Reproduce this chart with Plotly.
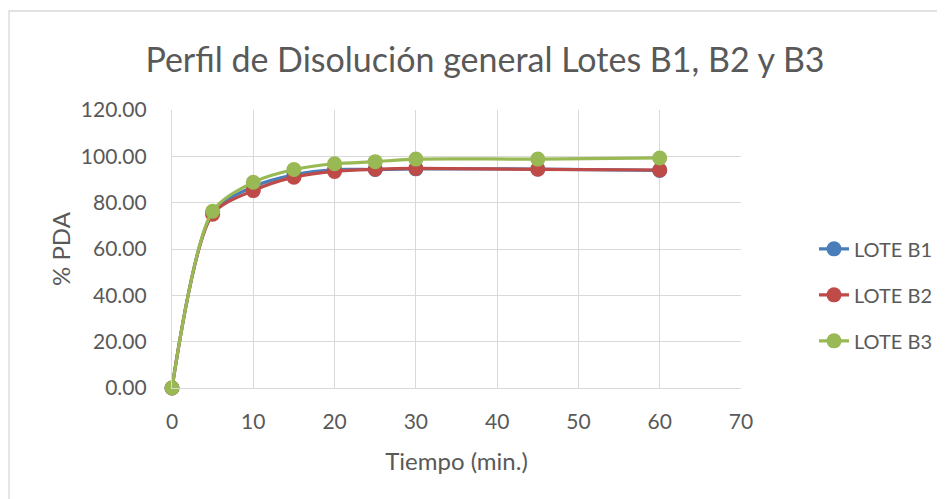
import plotly.graph_objects as go

tiempo = [0, 5, 10, 15, 20, 25, 30, 45, 60]
lote_b1 = [0.0, 75.6, 86.9, 92.0, 94.3, 94.3, 94.6, 94.5, 93.9]
lote_b2 = [0.0, 75.0, 85.2, 91.0, 93.5, 94.4, 94.8, 94.4, 94.1]
lote_b3 = [0.0, 76.3, 88.8, 94.3, 96.8, 97.7, 98.8, 98.8, 99.3]

series = [("LOTE B1", lote_b1, "#4a7ebb"),
          ("LOTE B2", lote_b2, "#be4b48"),
          ("LOTE B3", lote_b3, "#98b954")]

fig = go.Figure()
for i, (name, vals, col) in enumerate(series):
    fig.add_trace(go.Scatter(
        x=tiempo, y=vals, name=name, mode="lines+markers",
        line=dict(color=col, width=3.2, shape="spline", smoothing=0.8),
        marker=dict(color=col, size=15),
        legendgroup=str(i), cliponaxis=False,
    ))

font_family = "Lato, 'Open Sans', sans-serif"
grid = "#d9d9d9"
W, H = 945, 491
L, T, PW, PH = 164, 102, 569, 278

fig.update_layout(
    width=W, height=H,
    margin=dict(l=L, r=W - L - PW, t=T, b=H - T - PH),
    paper_bgcolor="white", plot_bgcolor="white",
    font=dict(family=font_family, color="#595959", size=20),
    title=dict(text="Perfil de Disolución general Lotes B1, B2 y B3",
               x=477 / W, xanchor="center", y=1 - 52 / H, yanchor="middle",
               font=dict(size=34, color="#595959")),
    xaxis=dict(range=[0, 70], dtick=10, tick0=0, showgrid=True, gridcolor=grid,
               gridwidth=1.3, zeroline=False, showline=True, linecolor=grid,
               linewidth=1.3, ticks="", ticklabelstandoff=15, tickfont=dict(size=21),
               title=dict(text="Tiempo (min.)", standoff=20, font=dict(size=24))),
    yaxis=dict(range=[0, 120], dtick=20, tick0=0, tickformat=".2f", showgrid=True,
               gridcolor=grid, gridwidth=1.3, zeroline=False, showline=True,
               linecolor=grid, linewidth=1.3, ticks="", ticklabelstandoff=20,
               tickfont=dict(size=21),
               title=dict(text="% PDA", standoff=3, font=dict(size=24))),
    legend=dict(x=(814 - 172) / PW, y=0.335, xanchor="left", yanchor="middle",
                tracegroupgap=17, font=dict(size=20), bgcolor="rgba(0,0,0,0)"),
    showlegend=True,
    shapes=[dict(type="rect", xref="paper", yref="paper",
                 x0=(1 - L) / PW, x1=(960 - L) / PW,
                 y0=(T + PH - 520) / PH, y1=(T + PH - 3) / PH,
                 line=dict(color="#d9d9d9", width=1.3), fillcolor="rgba(0,0,0,0)",
                 layer="below")],
)

fig.write_html("out.html")
